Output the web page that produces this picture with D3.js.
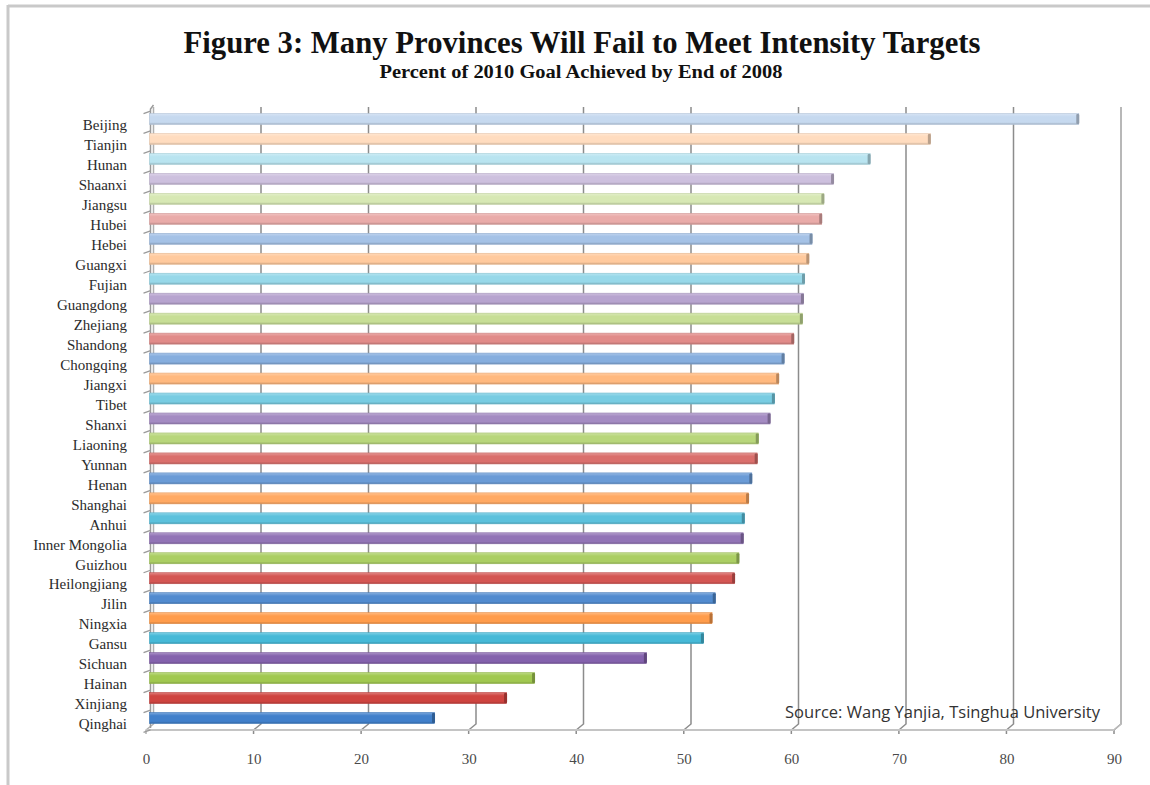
<!DOCTYPE html>
<html>
<head>
<meta charset="utf-8">
<script src="https://cdn.jsdelivr.net/npm/d3@7"></script>
<style>
  html, body { margin: 0; padding: 0; background: #fff; }
  svg { display: block; }
</style>
</head>
<body>
<svg id="chart" width="1150" height="785"></svg>
<script>
// ---- data ----
const provinces = ["Beijing","Tianjin","Hunan","Shaanxi","Jiangsu","Hubei","Hebei","Guangxi","Fujian","Guangdong","Zhejiang","Shandong","Chongqing","Jiangxi","Tibet","Shanxi","Liaoning","Yunnan","Henan","Shanghai","Anhui","Inner Mongolia","Guizhou","Heilongjiang","Jilin","Ningxia","Gansu","Sichuan","Hainan","Xinjiang","Qinghai"];
const percentAchieved = [86.4,72.6,67.0,63.6,62.7,62.5,61.6,61.3,60.9,60.8,60.7,59.9,59.0,58.5,58.1,57.7,56.6,56.5,56.0,55.7,55.3,55.2,54.8,54.4,52.6,52.3,51.5,46.2,35.8,33.2,26.5];
const xTickValues = [0,10,20,30,40,50,60,70,80,90];
const titleText = "Figure 3: Many Provinces Will Fail to Meet Intensity Targets";
const subtitleText = "Percent of 2010 Goal Achieved by End of 2008";
const sourceText = "Source: Wang Yanjia, Tsinghua University";

// ---- style constants ----
// Office accents, cycled from the bottom bar upward
const accents = ["#4F81BD","#C0504D","#9BBB59","#8064A2","#4BACC6","#F79646"];

const svg = d3.select("#chart");
const defs = svg.append("defs");

// frame (top and left edges)
svg.append("line").attr("x1",8).attr("x2",1150).attr("y1",6).attr("y2",6)
  .attr("stroke","#c9c9c9").attr("stroke-width",3);
svg.append("line").attr("x1",8).attr("x2",8).attr("y1",5).attr("y2",785)
  .attr("stroke","#c9c9c9").attr("stroke-width",3);

// scales
const xBar = d3.scaleLinear().domain([0,90]).range([149.5,1117.5]);
const xBack = d3.scaleLinear().domain([0,90]).range([153.5,1121]);
const xFront = d3.scaleLinear().domain([0,90]).range([146,1114]);
const y = d3.scalePoint().domain(provinces).range([119,718]);
const floorBackY = 724, floorFrontY = 730;
const wallTop = 107;

// gridlines on back wall with floor slant
const grid = svg.append("g");
xTickValues.forEach(v => {
  grid.append("path")
    .attr("d", `M${xBack(v)},${wallTop} L${xBack(v)},${floorBackY} L${xFront(v)},${floorFrontY} L${xFront(v)},${floorFrontY+4}`)
    .attr("fill","none").attr("stroke", v===0 ? "#b0b0b0" : "#8c8c8c").attr("stroke-width",1.5);
});
// floor front edge
svg.append("line").attr("x1",xFront(0)).attr("x2",xFront(90)).attr("y1",floorFrontY).attr("y2",floorFrontY)
  .attr("stroke","#c4c4c4").attr("stroke-width",2);
// right wall edge
svg.append("path").attr("d",`M${xBack(90)},${wallTop} L${xBack(90)},${floorBackY} L${xFront(90)},${floorFrontY}`)
  .attr("fill","none").attr("stroke","#bdbdbd").attr("stroke-width",1.5);

// left axis
const leftX = 150.5;
svg.append("path").attr("d",`M${leftX+3},${wallTop-2} L${leftX},${wallTop+2} L${leftX},${floorFrontY-2}`)
  .attr("fill","none").attr("stroke","#9a9a9a").attr("stroke-width",1.5);
const step = y.step();
d3.range(provinces.length + 1).forEach(i => {
  const ty = 119 - step/2 + 3.5 + i*step;
  svg.append("line").attr("x1",leftX).attr("y1",ty-1.5).attr("x2",leftX-7).attr("y2",ty+1)
    .attr("stroke","#9a9a9a").attr("stroke-width",1.3);
});

// bars
const n = provinces.length;
const barH = 11;
const barData = provinces.map((p,i) => {
  const fromBottom = n - 1 - i;
  const base = d3.hsl(accents[fromBottom % accents.length]);
  base.s = Math.min(1, base.s * 1.25);
  const t = 0.7 * Math.pow(fromBottom / (n - 1), 1.3);
  base.l = base.l + (1 - base.l) * t;
  return {p, v: percentAchieved[i], c: base.formatHex(), id: "g"+i};
});
barData.forEach(d => {
  const c = d3.color(d.c);
  const g = defs.append("linearGradient").attr("id", d.id).attr("x1",0).attr("x2",0).attr("y1",0).attr("y2",1);
  g.append("stop").attr("offset","0%").attr("stop-color", d3.interpolateRgb(d.c,"#fff")(0.3));
  g.append("stop").attr("offset","30%").attr("stop-color", d.c);
  g.append("stop").attr("offset","80%").attr("stop-color", d.c);
  g.append("stop").attr("offset","100%").attr("stop-color", c.darker(0.6).formatHex());
});
const bars = svg.append("g").selectAll("g").data(barData).join("g");
bars.append("rect")
  .attr("x", xBar(0)).attr("y", d => y(d.p) - barH/2)
  .attr("width", d => xBar(d.v) - xBar(0)).attr("height", barH)
  .attr("fill", d => `url(#${d.id})`)
  .attr("stroke", d => d3.color(d.c).darker(0.3).formatHex()).attr("stroke-width",0.6);
bars.append("rect")
  .attr("x", d => xBar(d.v) - 2.5).attr("y", d => y(d.p) - barH/2 + 0.5)
  .attr("width", 3).attr("height", barH - 1).attr("rx",1)
  .attr("fill", d => d3.color(d.c).darker(0.9).formatHex());

// category labels
svg.append("g").selectAll("text").data(provinces).join("text")
  .attr("x", 127).attr("y", d => y(d) + 6).attr("dy","0.35em")
  .attr("text-anchor","end")
  .attr("font-family","'Liberation Serif', 'Times New Roman', serif")
  .attr("font-size", 15).attr("fill","#2b2b2b")
  .text(d => d);

// x tick labels
const axis = d3.axisBottom(xFront).tickValues(xTickValues).tickSize(0).tickPadding(0);
const axG = svg.append("g").attr("transform", `translate(0, 753)`).call(axis);
axG.select(".domain").remove();
axG.selectAll("text")
  .attr("font-family","'Liberation Serif', 'Times New Roman', serif")
  .attr("font-size", 15).attr("fill","#4a4a4a");

// title & subtitle
svg.append("text").attr("x", 582).attr("y", 53).attr("text-anchor","middle")
  .attr("font-family","'Liberation Serif', 'Times New Roman', serif")
  .attr("font-weight","bold").attr("font-size", 31).attr("fill","#111")
  .attr("textLength", 797).attr("lengthAdjust","spacingAndGlyphs")
  .text(titleText);
svg.append("text").attr("x", 581).attr("y", 78).attr("text-anchor","middle")
  .attr("font-family","'Liberation Serif', 'Times New Roman', serif")
  .attr("font-weight","bold").attr("font-size", 18).attr("fill","#111")
  .attr("textLength", 403).attr("lengthAdjust","spacingAndGlyphs")
  .text(subtitleText);

// source
svg.append("text").attr("x", 785).attr("y", 718)
  .attr("font-family","'Open Sans', 'Liberation Sans', sans-serif")
  .attr("font-size", 16).attr("fill","#333")
  .attr("textLength", 315).attr("lengthAdjust","spacingAndGlyphs")
  .text(sourceText);
</script>
</body>
</html>
